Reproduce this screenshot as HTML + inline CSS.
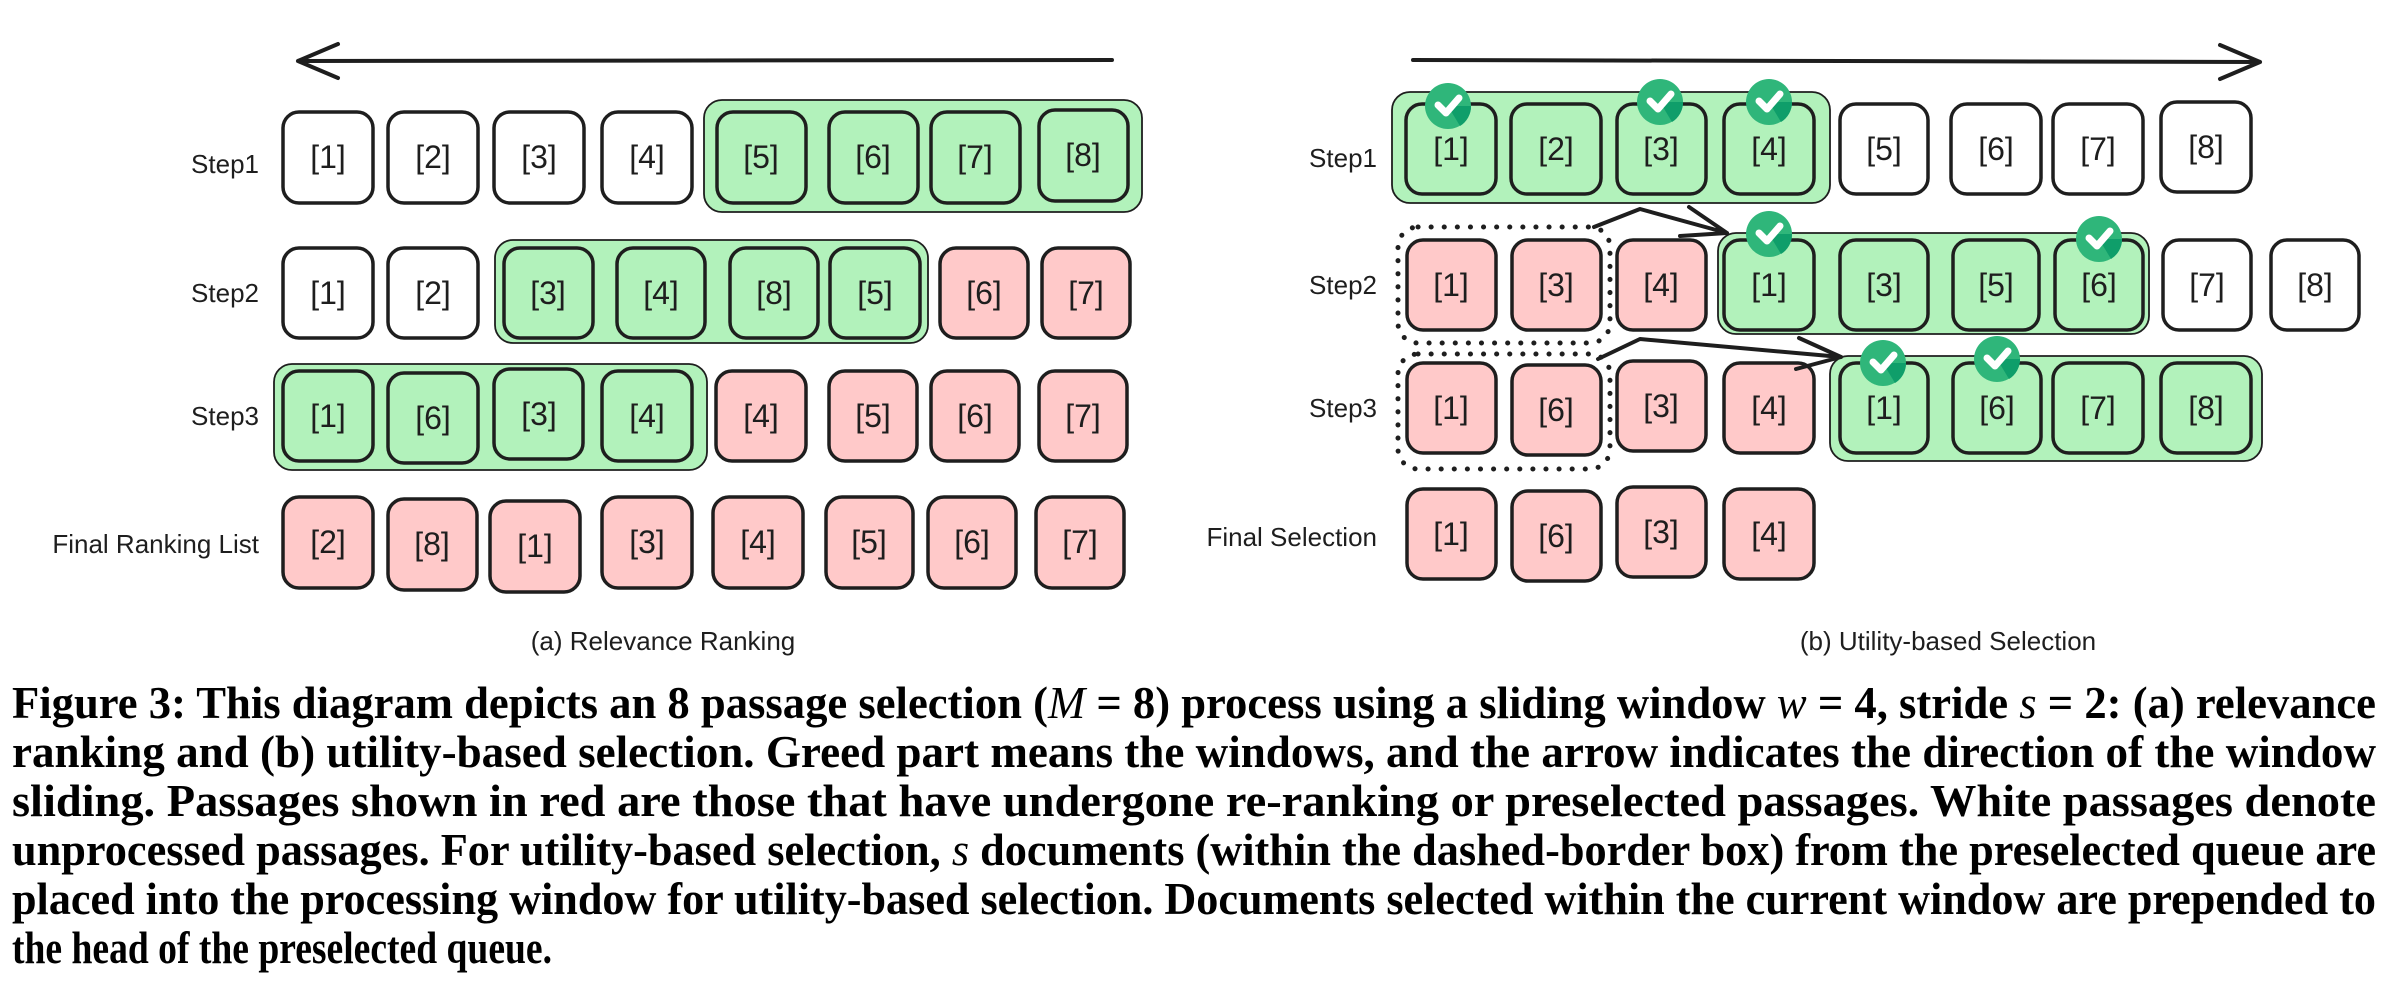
<!DOCTYPE html>
<html><head><meta charset="utf-8"><style>
html,body{margin:0;padding:0;background:#fff;}
svg{display:block;}
.w{fill:#fff;stroke:#1e1e1e;stroke-width:3.5}
.g{fill:#b2f2bb;stroke:#1e1e1e;stroke-width:3.5}
.r{fill:#ffc9c9;stroke:#1e1e1e;stroke-width:3.5}
.win{fill:#b2f2bb;stroke:#1e1e1e;stroke-width:1.8}
.dot{fill:none;stroke:#1e1e1e;stroke-width:5;stroke-dasharray:0.1 13;stroke-linecap:round}
.t{font-family:"Liberation Sans",sans-serif;font-size:32px;fill:#1e1e1e;text-anchor:middle}
.l{font-family:"Liberation Sans",sans-serif;font-size:26px;fill:#1e1e1e;text-anchor:end}
.c{font-family:"Liberation Sans",sans-serif;font-size:26px;fill:#1e1e1e;text-anchor:middle}
.cap{font-family:"Liberation Serif",serif;font-weight:bold;font-size:46px;fill:#000}
.ln{fill:none;stroke:#1e1e1e;stroke-width:4;stroke-linecap:round;stroke-linejoin:round}
.ck{fill:none;stroke:#fff;stroke-width:7;stroke-linecap:round;stroke-linejoin:round}
</style></head><body>
<svg width="2388" height="998" viewBox="0 0 2388 998" xmlns="http://www.w3.org/2000/svg">
<!-- LEFT PANEL -->
<path class="ln" d="M1112 60 L298 61 M298 61 L338 44 M298 61 L338 78"/>
<text class="l" x="259" y="173">Step1</text>
<text class="l" x="259" y="302">Step2</text>
<text class="l" x="259" y="425">Step3</text>
<text class="l" x="259" y="553">Final Ranking List</text>

<rect class="win" x="704" y="100" width="438" height="112" rx="18"/>
<rect class="w" x="283" y="112" width="90" height="91" rx="16"/><text class="t" x="328" y="168">[1]</text>
<rect class="w" x="388" y="112" width="90" height="91" rx="16"/><text class="t" x="433" y="168">[2]</text>
<rect class="w" x="494" y="112" width="90" height="91" rx="16"/><text class="t" x="539" y="168">[3]</text>
<rect class="w" x="602" y="112" width="90" height="91" rx="16"/><text class="t" x="647" y="168">[4]</text>
<rect class="g" x="717" y="112" width="89" height="91" rx="16"/><text class="t" x="761" y="168">[5]</text>
<rect class="g" x="829" y="112" width="89" height="91" rx="16"/><text class="t" x="873" y="168">[6]</text>
<rect class="g" x="931" y="112" width="89" height="91" rx="16"/><text class="t" x="975" y="168">[7]</text>
<rect class="g" x="1039" y="110" width="89" height="91" rx="16"/><text class="t" x="1083" y="166">[8]</text>

<rect class="win" x="495" y="240" width="433" height="103" rx="18"/>
<rect class="w" x="283" y="248" width="90" height="90" rx="16"/><text class="t" x="328" y="304">[1]</text>
<rect class="w" x="388" y="248" width="90" height="90" rx="16"/><text class="t" x="433" y="304">[2]</text>
<rect class="g" x="504" y="248" width="89" height="90" rx="16"/><text class="t" x="548" y="304">[3]</text>
<rect class="g" x="617" y="248" width="88" height="90" rx="16"/><text class="t" x="661" y="304">[4]</text>
<rect class="g" x="730" y="248" width="88" height="90" rx="16"/><text class="t" x="774" y="304">[8]</text>
<rect class="g" x="830" y="248" width="90" height="90" rx="16"/><text class="t" x="875" y="304">[5]</text>
<rect class="r" x="940" y="248" width="88" height="90" rx="16"/><text class="t" x="984" y="304">[6]</text>
<rect class="r" x="1042" y="248" width="88" height="90" rx="16"/><text class="t" x="1086" y="304">[7]</text>

<rect class="win" x="274" y="364" width="433" height="106" rx="18"/>
<rect class="g" x="283" y="371" width="90" height="90" rx="16"/><text class="t" x="328" y="427">[1]</text>
<rect class="g" x="388" y="373" width="90" height="90" rx="16"/><text class="t" x="433" y="429">[6]</text>
<rect class="g" x="494" y="369" width="89" height="90" rx="16"/><text class="t" x="539" y="425">[3]</text>
<rect class="g" x="602" y="371" width="90" height="90" rx="16"/><text class="t" x="647" y="427">[4]</text>
<rect class="r" x="716" y="371" width="90" height="90" rx="16"/><text class="t" x="761" y="427">[4]</text>
<rect class="r" x="829" y="371" width="88" height="90" rx="16"/><text class="t" x="873" y="427">[5]</text>
<rect class="r" x="931" y="371" width="88" height="90" rx="16"/><text class="t" x="975" y="427">[6]</text>
<rect class="r" x="1039" y="371" width="88" height="90" rx="16"/><text class="t" x="1083" y="427">[7]</text>

<rect class="r" x="283" y="497" width="90" height="91" rx="16"/><text class="t" x="328" y="553">[2]</text>
<rect class="r" x="388" y="499" width="89" height="91" rx="16"/><text class="t" x="432" y="555">[8]</text>
<rect class="r" x="490" y="501" width="90" height="91" rx="16"/><text class="t" x="535" y="557">[1]</text>
<rect class="r" x="602" y="497" width="90" height="91" rx="16"/><text class="t" x="647" y="553">[3]</text>
<rect class="r" x="713" y="497" width="90" height="91" rx="16"/><text class="t" x="758" y="553">[4]</text>
<rect class="r" x="826" y="497" width="87" height="91" rx="16"/><text class="t" x="869" y="553">[5]</text>
<rect class="r" x="928" y="497" width="88" height="91" rx="16"/><text class="t" x="972" y="553">[6]</text>
<rect class="r" x="1036" y="497" width="88" height="91" rx="16"/><text class="t" x="1080" y="553">[7]</text>
<text class="c" x="663" y="650">(a) Relevance Ranking</text>

<!-- RIGHT PANEL -->
<path class="ln" d="M1413 60 L2260 62 M2260 62 L2220 45 M2260 62 L2220 79"/>
<text class="l" x="1377" y="167">Step1</text>
<text class="l" x="1377" y="294">Step2</text>
<text class="l" x="1377" y="417">Step3</text>
<text class="l" x="1377" y="546">Final Selection</text>

<rect class="win" x="1392" y="92" width="438" height="111" rx="18"/>
<rect class="g" x="1406" y="104" width="90" height="90" rx="16"/><text class="t" x="1451" y="160">[1]</text>
<rect class="g" x="1511" y="104" width="90" height="90" rx="16"/><text class="t" x="1556" y="160">[2]</text>
<rect class="g" x="1617" y="104" width="89" height="90" rx="16"/><text class="t" x="1661" y="160">[3]</text>
<rect class="g" x="1724" y="104" width="90" height="90" rx="16"/><text class="t" x="1769" y="160">[4]</text>
<rect class="w" x="1840" y="104" width="88" height="90" rx="16"/><text class="t" x="1884" y="160">[5]</text>
<rect class="w" x="1951" y="104" width="90" height="90" rx="16"/><text class="t" x="1996" y="160">[6]</text>
<rect class="w" x="2053" y="104" width="90" height="90" rx="16"/><text class="t" x="2098" y="160">[7]</text>
<rect class="w" x="2161" y="102" width="90" height="90" rx="16"/><text class="t" x="2206" y="158">[8]</text>

<rect class="dot" x="1398" y="227" width="212" height="116" rx="20"/>
<rect class="r" x="1407" y="240" width="89" height="90" rx="16"/><text class="t" x="1451" y="296">[1]</text>
<rect class="r" x="1512" y="240" width="89" height="90" rx="16"/><text class="t" x="1556" y="296">[3]</text>
<rect class="r" x="1617" y="240" width="89" height="90" rx="16"/><text class="t" x="1661" y="296">[4]</text>
<rect class="win" x="1718" y="233" width="431" height="101" rx="18"/>
<rect class="g" x="1724" y="240" width="90" height="90" rx="16"/><text class="t" x="1769" y="296">[1]</text>
<rect class="g" x="1840" y="240" width="88" height="90" rx="16"/><text class="t" x="1884" y="296">[3]</text>
<rect class="g" x="1953" y="240" width="86" height="90" rx="16"/><text class="t" x="1996" y="296">[5]</text>
<rect class="g" x="2055" y="240" width="88" height="90" rx="16"/><text class="t" x="2099" y="296">[6]</text>
<rect class="w" x="2163" y="240" width="88" height="90" rx="16"/><text class="t" x="2207" y="296">[7]</text>
<rect class="w" x="2271" y="240" width="88" height="90" rx="16"/><text class="t" x="2315" y="296">[8]</text>

<rect class="dot" x="1398" y="354" width="212" height="115" rx="20"/>
<rect class="r" x="1407" y="363" width="89" height="90" rx="16"/><text class="t" x="1451" y="419">[1]</text>
<rect class="r" x="1512" y="365" width="89" height="90" rx="16"/><text class="t" x="1556" y="421">[6]</text>
<rect class="r" x="1617" y="361" width="89" height="90" rx="16"/><text class="t" x="1661" y="417">[3]</text>
<rect class="r" x="1724" y="363" width="90" height="90" rx="16"/><text class="t" x="1769" y="419">[4]</text>
<rect class="win" x="1830" y="356" width="432" height="105" rx="18"/>
<rect class="g" x="1840" y="363" width="88" height="90" rx="16"/><text class="t" x="1884" y="419">[1]</text>
<rect class="g" x="1953" y="363" width="88" height="90" rx="16"/><text class="t" x="1997" y="419">[6]</text>
<rect class="g" x="2053" y="363" width="90" height="90" rx="16"/><text class="t" x="2098" y="419">[7]</text>
<rect class="g" x="2161" y="363" width="90" height="90" rx="16"/><text class="t" x="2206" y="419">[8]</text>

<rect class="r" x="1407" y="489" width="89" height="90" rx="16"/><text class="t" x="1451" y="545">[1]</text>
<rect class="r" x="1512" y="491" width="89" height="90" rx="16"/><text class="t" x="1556" y="547">[6]</text>
<rect class="r" x="1617" y="487" width="89" height="90" rx="16"/><text class="t" x="1661" y="543">[3]</text>
<rect class="r" x="1724" y="489" width="90" height="90" rx="16"/><text class="t" x="1769" y="545">[4]</text>

<!-- connector arrows -->
<path class="ln" d="M1594 227 L1640 209 L1727 233 M1689 207 L1727 233 L1680 236"/>
<path class="ln" d="M1598 359 L1640 339 L1841 357 M1799 338 L1841 357 L1796 369"/>

<!-- check marks -->
<g>
<circle cx="1448" cy="106" r="23" fill="#2fb67a"/><path d="M1448 106 L1471 106 A23 23 0 0 1 1460 126 Z" fill="#0f9e6a"/><path class="ck" d="M1438 105 L1446 113 L1459 98"/>
<circle cx="1660" cy="102" r="23" fill="#2fb67a"/><path d="M1660 102 L1683 102 A23 23 0 0 1 1672 122 Z" fill="#0f9e6a"/><path class="ck" d="M1650 101 L1658 109 L1671 94"/>
<circle cx="1769" cy="102" r="23" fill="#2fb67a"/><path d="M1769 102 L1792 102 A23 23 0 0 1 1781 122 Z" fill="#0f9e6a"/><path class="ck" d="M1759 101 L1767 109 L1780 94"/>
<circle cx="1769" cy="234" r="23" fill="#2fb67a"/><path d="M1769 234 L1792 234 A23 23 0 0 1 1781 254 Z" fill="#0f9e6a"/><path class="ck" d="M1759 233 L1767 241 L1780 226"/>
<circle cx="2099" cy="239" r="23" fill="#2fb67a"/><path d="M2099 239 L2122 239 A23 23 0 0 1 2111 259 Z" fill="#0f9e6a"/><path class="ck" d="M2089 238 L2097 246 L2110 231"/>
<circle cx="1883" cy="363" r="23" fill="#2fb67a"/><path d="M1883 363 L1906 363 A23 23 0 0 1 1895 383 Z" fill="#0f9e6a"/><path class="ck" d="M1873 362 L1881 370 L1894 355"/>
<circle cx="1997" cy="359" r="23" fill="#2fb67a"/><path d="M1997 359 L2020 359 A23 23 0 0 1 2009 379 Z" fill="#0f9e6a"/><path class="ck" d="M1987 358 L1995 366 L2008 351"/>
</g>
<text class="c" x="1948" y="650">(b) Utility-based Selection</text>

<!-- CAPTION -->
<text class="cap" x="12" y="718" textLength="2364" lengthAdjust="spacingAndGlyphs">Figure 3: This diagram depicts an 8 passage selection (<tspan font-style="italic" font-weight="normal">M</tspan> = 8) process using a sliding window <tspan font-style="italic" font-weight="normal">w</tspan> = 4, stride <tspan font-style="italic" font-weight="normal">s</tspan> = 2: (a) relevance</text>
<text class="cap" x="12" y="767" textLength="2364" lengthAdjust="spacingAndGlyphs">ranking and (b) utility-based selection. Greed part means the windows, and the arrow indicates the direction of the window</text>
<text class="cap" x="12" y="816" textLength="2364" lengthAdjust="spacingAndGlyphs">sliding. Passages shown in red are those that have undergone re-ranking or preselected passages. White passages denote</text>
<text class="cap" x="12" y="865" textLength="2364" lengthAdjust="spacingAndGlyphs">unprocessed passages. For utility-based selection, <tspan font-style="italic" font-weight="normal">s</tspan> documents (within the dashed-border box) from the preselected queue are</text>
<text class="cap" x="12" y="914" textLength="2364" lengthAdjust="spacingAndGlyphs">placed into the processing window for utility-based selection. Documents selected within the current window are prepended to</text>
<text class="cap" x="12" y="963" textLength="540" lengthAdjust="spacingAndGlyphs">the head of the preselected queue.</text>
</svg>
</body></html>
